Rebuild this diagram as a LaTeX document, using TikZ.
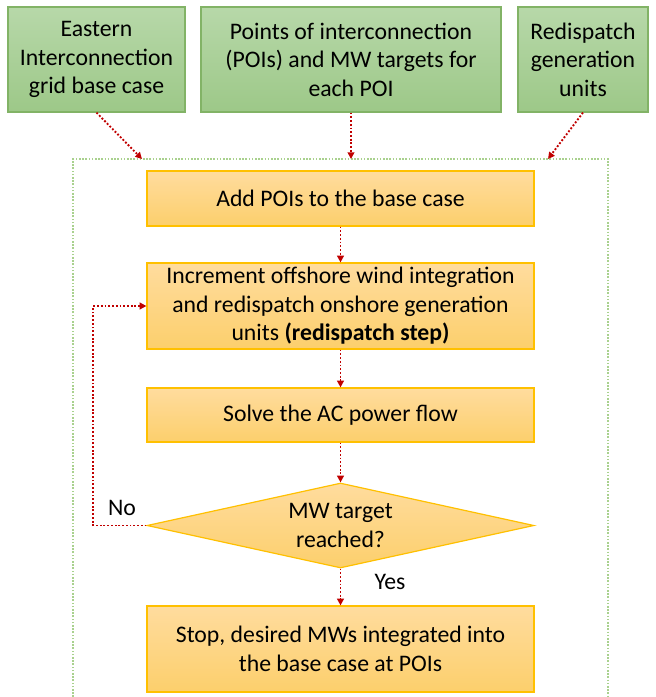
\documentclass[tikz,border=0pt]{standalone}
\usepackage{fontspec}
\setmainfont{Carlito}
\usepackage{xcolor}
\usepackage{tikz}
\usetikzlibrary{positioning, shapes.geometric, arrows.meta}

\definecolor{inTop}{HTML}{B7D8A9}
\definecolor{inBot}{HTML}{9DC888}
\definecolor{inLine}{HTML}{82B366}
\definecolor{stTop}{HTML}{FFDC9E}
\definecolor{stBot}{HTML}{FCCF6C}
\definecolor{stLine}{HTML}{FFC000}
\definecolor{flowRed}{HTML}{C00000}
\definecolor{frameGreen}{HTML}{A9D18E}

\tikzset{
  inputbox/.style={draw=inLine, line width=0.9pt, top color=inTop, bottom color=inBot, rectangle, align=center, minimum height=105*0.75pt, inner sep=0pt},
  stepbox/.style={draw=stLine, line width=0.9pt, top color=stTop, bottom color=stBot, rectangle, align=center, minimum width=387*0.75pt, inner sep=0pt},
  flow/.style={draw=flowRed, line width=1.4pt, dash pattern=on 1.4pt off 1.4pt, -{Triangle[length=5pt, width=5pt]}},
  frame/.style={draw=frameGreen, line width=0.8pt, dash pattern=on 1.2pt off 1.2pt}
}

\begin{document}
\begin{tikzpicture}[x=0.75pt, y=-0.75pt, font=\fontsize{17.8}{21.4}\selectfont]
  \useasboundingbox (0,0) rectangle (656,697);

  % inputs
  \node[inputbox, minimum width=177*0.75pt] (grid) at (96.5,59.5) {Eastern\\Interconnection\\grid base case};
  \node[inputbox, minimum width=300*0.75pt] (poi) at (351,59.5) {Points of interconnection\\(POIs) and MW targets for\\each POI};
  \node[inputbox, minimum width=130*0.75pt] (units) at (583,59.5) {Redispatch\\generation\\units};

  % process frame
  \draw[frame] (73,697) -- (73,159) -- (608,159) -- (608,697);
  \coordinate (inA) at (142,159);
  \coordinate (inB) at (351,159);
  \coordinate (inC) at (548,159);

  \node[stepbox, minimum height=55*0.75pt] (add) at (340.5,198.5) {Add POIs to the base case};
  \node[stepbox, minimum height=86*0.75pt] (incr) at (340.5,306) {Increment offshore wind integration\\and redispatch onshore generation\\units \textbf{(redispatch step)}};
  \node[stepbox, minimum height=54*0.75pt] (solve) at (340.5,415) {Solve the AC power flow};
  \node[draw=stLine, line width=0.9pt, top color=stTop, bottom color=stBot, diamond, shape aspect=4.55, align=center, inner sep=0pt, minimum width=387*0.75pt, minimum height=85*0.75pt] (check) at (340.5,525.5) {MW target\\reached?};
  \node[stepbox, minimum height=86*0.75pt] (stop) at (340.5,649) {Stop, desired MWs integrated into\\the base case at POIs};

  \draw[flow] (grid.south) -- (inA);
  \draw[flow] (poi.south) -- (inB);
  \draw[flow] (units.south) -- (inC);

  \draw[flow] (add) -- (incr);
  \draw[flow] (incr) -- (solve);
  \draw[flow] (solve) -- (check);
  \draw[flow] (check) -- (stop);
  \draw[flow] (check.west) -- ++(-53,0) |- (incr.west);

  \node (no) at (122,508) {No};
  \node (yes) at (390,582) {Yes};
\end{tikzpicture}
\end{document}
